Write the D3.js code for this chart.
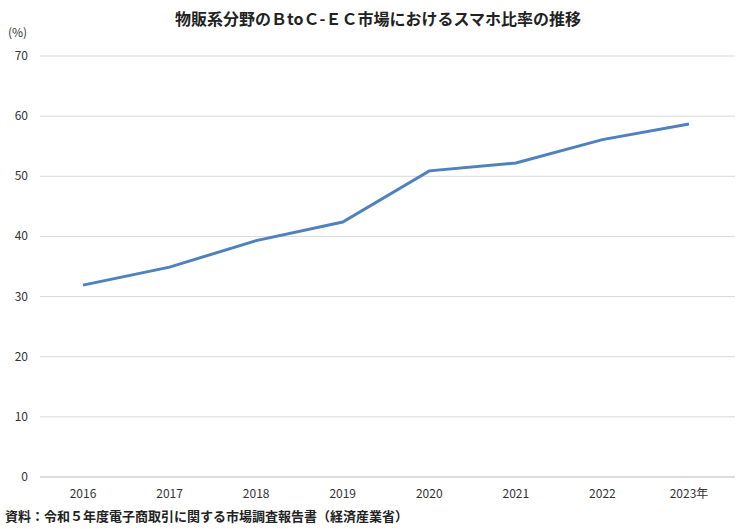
<!DOCTYPE html>
<html><head><meta charset="utf-8">
<script src="https://cdn.jsdelivr.net/npm/d3@7"></script>
<style>body{margin:0;background:#fff}</style></head>
<body><svg id="c" width="756" height="529"></svg>
<script>
const years = ["2016","2017","2018","2019","2020","2021","2022","2023年"];
const values = [31.9, 34.9, 39.3, 42.4, 50.9, 52.2, 56.1, 58.7];
const yTicks = [0,10,20,30,40,50,60,70];
const svg = d3.select("#c");
const f = "'Noto Sans CJK JP', 'Noto Sans', sans-serif";
const x = d3.scalePoint().domain(years).range([83, 689]);
const y = d3.scaleLinear().domain([0,70]).range([477, 56]);
svg.append("g").selectAll("line").data(yTicks).join("line")
  .attr("x1",40).attr("x2",735).attr("y1",d=>y(d)).attr("y2",d=>y(d))
  .attr("stroke",d=>d===0?"#bbb":"#d9d9d9").attr("stroke-width",1);
svg.append("g").selectAll("text").data(yTicks).join("text")
  .attr("x",28).attr("y",d=>y(d)+4).attr("text-anchor","end")
  .attr("font-family",f).attr("font-size",12).attr("fill","#333").text(d=>d);
svg.append("g").selectAll("text").data(years).join("text")
  .attr("x",d=>x(d)).attr("y",498).attr("text-anchor","middle")
  .attr("font-family",f).attr("font-size",12).attr("fill","#333").text(d=>d);
svg.append("path").datum(values)
  .attr("d",d3.line().x((d,i)=>x(years[i])).y(d=>y(d)))
  .attr("fill","none").attr("stroke","#4f81bd").attr("stroke-width",3);
svg.append("text").attr("x",378).attr("y",25).attr("text-anchor","middle")
  .attr("font-family",f).attr("font-size",16).attr("font-weight","bold").attr("fill","#222")
  .text("物販系分野のＢtoＣ-ＥＣ市場におけるスマホ比率の推移");
svg.append("text").attr("x",8).attr("y",37).attr("font-family",f).attr("font-size",12).attr("fill","#333").text("(%)");
svg.append("text").attr("x",5).attr("y",521).attr("font-family",f).attr("font-size",13).attr("font-weight","bold").attr("fill","#222")
  .text("資料：令和５年度電子商取引に関する市場調査報告書（経済産業省）");
</script></body></html>
